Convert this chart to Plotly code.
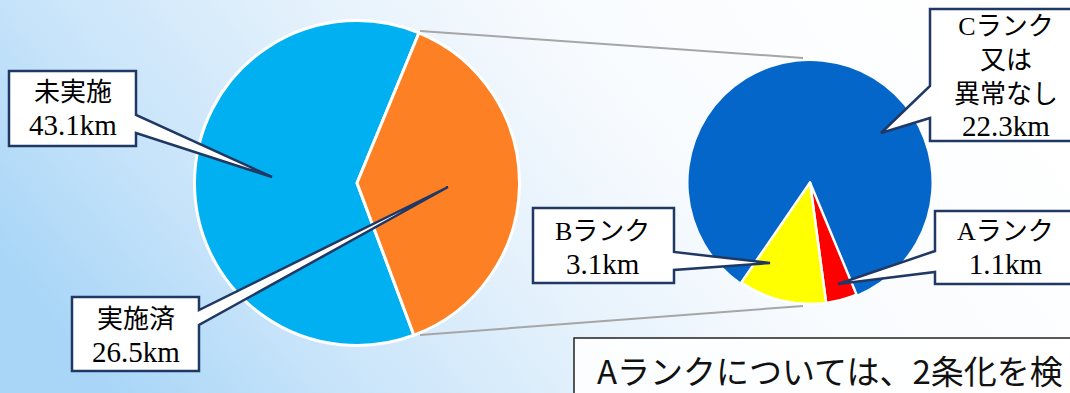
import base64
import plotly.graph_objects as go

# ---------------- data ----------------
left_labels = ["未実施", "実施済"]
left_values = [43.1, 26.5]
left_colors = ["#00B0F0", "#FD8024"]

right_labels = ["Cランク<br>又は<br>異常なし", "Aランク", "Bランク"]
right_values = [22.3, 1.1, 3.1]
right_colors = ["#0566C9", "#FF0000", "#FFFF00"]

unit = "km"
note_text = "Aランクについては、2条化を検"

# ---------------- layout helpers ----------------
W, H = 1070, 393


def px(x):
    return x / W


def py(y):
    return 1 - y / H


def domain(cx, cy, r):
    return dict(x=[px(cx - r), px(cx + r)], y=[py(cy + r), py(cy - r)])


fig = go.Figure()

fig.add_trace(go.Pie(
    labels=left_labels, values=left_values, sort=False, direction="clockwise",
    rotation=159.5, textinfo="none", hoverinfo="label+value", showlegend=False,
    marker=dict(colors=left_colors, line=dict(color="white", width=3)),
    domain=domain(357, 183, 162.5),
))

fig.add_trace(go.Pie(
    labels=right_labels, values=right_values, sort=False, direction="clockwise",
    rotation=214.5, textinfo="none", hoverinfo="label+value", showlegend=False,
    marker=dict(colors=right_colors, line=dict(color="white", width=[0, 2.5, 2.5])),
    domain=domain(810, 182.5, 121.5),
))

NAVY = "#203864"
shapes = []

# connector lines between the pies
for (x0, y0, x1, y1) in [(420, 31, 803, 58), (420, 335, 803, 306)]:
    shapes.append(dict(type="line", xref="paper", yref="paper", layer="below",
                       x0=px(x0), y0=py(y0), x1=px(x1), y1=py(y1),
                       line=dict(color="#A6A6A6", width=2)))


def pt(x, y):
    return f"{px(x):.5f},{py(y):.5f}"


def callout(box, b1, tip, b2, side):
    x0, y0, x1, y1 = box
    if side == "right":
        p = (f"M{pt(x0, y0)} L{pt(x1, y0)} L{pt(x1, b1)} L{pt(*tip)} "
             f"L{pt(x1, b2)} L{pt(x1, y1)} L{pt(x0, y1)} Z")
    else:
        p = (f"M{pt(x0, y0)} L{pt(x1, y0)} L{pt(x1, y1)} L{pt(x0, y1)} "
             f"L{pt(x0, b2)} L{pt(*tip)} L{pt(x0, b1)} Z")
    return dict(type="path", xref="paper", yref="paper", path=p,
                fillcolor="white", line=dict(color=NAVY, width=2.5), layer="above")


# callouts: (box, wedge top y, tip, wedge bottom y, side, text centre)
callouts = [
    (left_labels[0], left_values[0], (9, 71, 136, 146), 115, (272, 177), 133, "right", (73, 110)),
    (left_labels[1], left_values[1], (72, 297, 199, 371), 310, (448, 187), 325, "right", (136, 336)),
    (right_labels[0], right_values[0], (930, 9, 1085, 141), 86, (881, 133), 118, "left", (1006, 77)),
    (right_labels[1], right_values[1], (935, 211, 1085, 284), 251, (838, 284), 272, "left", (1005, 249)),
    (right_labels[2], right_values[2], (533, 208, 674, 283), 252, (770, 263), 270, "right", (602, 248)),
]

annotations = []
FONT = "Liberation Serif, Noto Sans CJK JP, serif"
for lab, val, box, b1, tip, b2, side, (tx, ty) in callouts:
    shapes.append(callout(box, b1, tip, b2, side))
    annotations.append(dict(
        x=px(tx), y=py(ty), xref="paper", yref="paper", showarrow=False,
        text=f"{lab}<br><span style='font-size:29px'>{val}{unit}</span>",
        align="center", xanchor="center", yanchor="middle",
        font=dict(family=FONT, size=26, color="black"),
    ))

# note box at the bottom right
shapes.append(dict(type="rect", xref="paper", yref="paper",
                   x0=px(574), y0=py(338), x1=px(1090), y1=py(400),
                   fillcolor="rgba(255,255,255,0.85)",
                   line=dict(color="#222222", width=1.5), layer="above"))
annotations.append(dict(
    x=px(595), y=py(370), xref="paper", yref="paper", showarrow=False,
    text=note_text, xanchor="left", yanchor="middle",
    font=dict(family="Noto Sans CJK JP, sans-serif", size=33, color="#111111"),
))

# gradient background
svg = (
    '<svg xmlns="http://www.w3.org/2000/svg" width="1070" height="393" '
    'preserveAspectRatio="none">'
    '<defs><linearGradient id="g" x1="0" y1="0.65" x2="1" y2="0.35">'
    '<stop offset="0" stop-color="#A9D6F7"/>'
    '<stop offset="0.2" stop-color="#C8E4FA"/>'
    '<stop offset="0.45" stop-color="#E6F2FC"/>'
    '<stop offset="0.65" stop-color="#F8FBFE"/>'
    '<stop offset="1" stop-color="#FFFFFF"/>'
    '</linearGradient></defs>'
    '<rect width="1070" height="393" fill="url(#g)"/></svg>'
)
src = "data:image/svg+xml;base64," + base64.b64encode(svg.encode()).decode()

fig.update_layout(
    width=W, height=H, autosize=False,
    margin=dict(l=0, r=0, t=0, b=0),
    paper_bgcolor="white", plot_bgcolor="white",
    shapes=shapes, annotations=annotations,
    images=[dict(source=src, xref="paper", yref="paper", x=0, y=1,
                 sizex=1, sizey=1, xanchor="left", yanchor="top",
                 sizing="stretch", layer="below")],
)

fig.write_html(
    "out.html",
    config={"displayModeBar": False},
    post_script="document.body.style.margin='0';document.body.style.overflow='hidden';",
)
